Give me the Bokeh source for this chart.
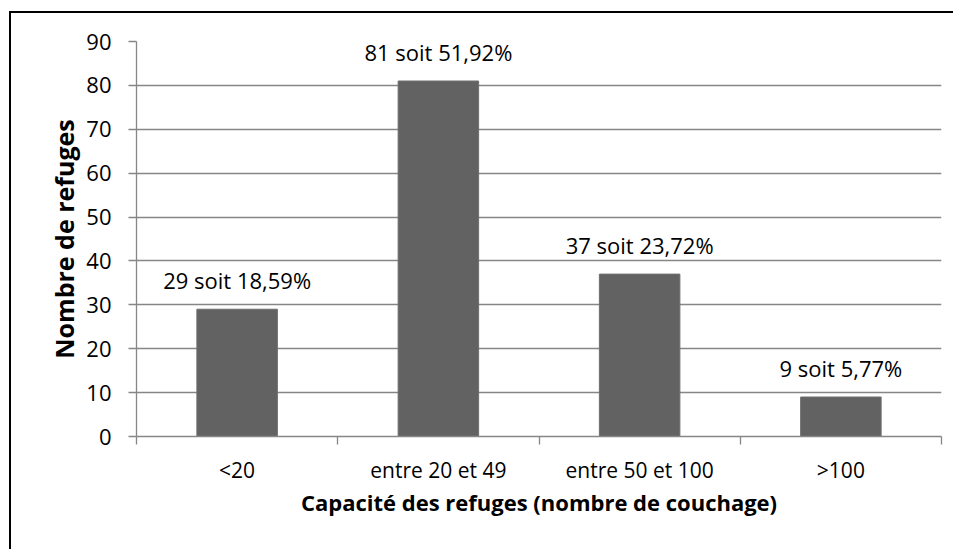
from bokeh.plotting import figure
from bokeh.models import ColumnDataSource, FixedTicker, Range1d
from bokeh.core.properties import value
from bokeh.embed import file_html
from bokeh.resources import INLINE

categories = ["<20", "entre 20 et 49", "entre 50 et 100", ">100"]
counts = [29, 81, 37, 9]
labels = ["29 soit 18,59%", "81 soit 51,92%", "37 soit 23,72%", "9 soit 5,77%"]
y_ticks = [0, 10, 20, 30, 40, 50, 60, 70, 80, 90]

FONT = "Open Sans"
xs = [i + 0.5 for i in range(len(categories))]
src = ColumnDataSource(dict(x=xs, top=counts, label=labels))

W, H = 944, 538
p = figure(width=W, height=H, output_backend="svg", toolbar_location=None,
           x_range=Range1d(0, len(categories)), y_range=Range1d(0, 90),
           min_border_left=125, min_border_right=14, min_border_top=28, min_border_bottom=115)
p.margin = (11, 0, 0, 9)
p.styles = {"border-top": "2px solid #000000", "border-left": "2px solid #000000"}
p.outline_line_color = None
p.background_fill_color = "white"
p.border_fill_color = "white"

p.vbar(x="x", top="top", width=0.4, bottom=0, source=src,
       fill_color="#626262", line_color="#6e6e6e", line_width=1)
p.text(x="x", y="top", text="label", source=src, text_align="center",
       text_baseline="alphabetic", y_offset=-29, text_font=value(FONT),
       text_font_size="22px", text_color="#000000")

# grid
p.xgrid.grid_line_color = None
p.ygrid.grid_line_color = "#868686"
p.ygrid.grid_line_width = 1.3
p.ygrid.ticker = FixedTicker(ticks=y_ticks)

# y axis
ya = p.yaxis[0]
ya.ticker = FixedTicker(ticks=y_ticks)
ya.axis_line_color = "#868686"
ya.axis_line_width = 1.3
ya.major_tick_line_color = "#868686"
ya.major_tick_line_width = 1.3
ya.major_tick_out = 8
ya.major_tick_in = 0
ya.minor_tick_line_color = None
ya.major_label_standoff = 17
ya.major_label_text_font = FONT
ya.major_label_text_font_size = "22px"
ya.major_label_text_color = "#000000"
ya.axis_label = "Nombre de refuges"
ya.axis_label_text_font = FONT
ya.axis_label_text_font_style = "bold"
ya.axis_label_text_font_size = "25px"
ya.axis_label_text_color = "#000000"
ya.axis_label_standoff = 2

# x axis
xa = p.xaxis[0]
xa.ticker = FixedTicker(ticks=xs, minor_ticks=list(range(len(categories) + 1)))
xa.major_label_overrides = {x: c for x, c in zip(xs, categories)}
xa.axis_line_color = "#868686"
xa.axis_line_width = 1.3
xa.major_tick_line_color = None
xa.major_tick_out = 0
xa.major_tick_in = 0
xa.minor_tick_line_color = "#868686"
xa.minor_tick_line_width = 1.3
xa.minor_tick_out = 8
xa.minor_tick_in = 0
xa.major_label_standoff = 11
xa.major_label_text_font = FONT
xa.major_label_text_font_size = "21px"
xa.major_label_text_color = "#000000"
xa.axis_label = "Capacité des refuges (nombre de couchage)"
xa.axis_label_text_font = FONT
xa.axis_label_text_font_style = "bold"
xa.axis_label_text_font_size = "22px"
xa.axis_label_text_color = "#000000"
xa.axis_label_standoff = 0

open("out.html", "w").write(file_html(p, INLINE))
